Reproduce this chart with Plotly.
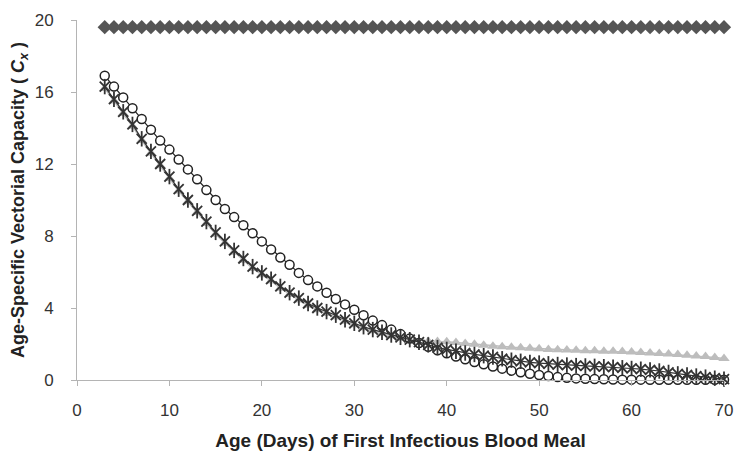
import plotly.graph_objects as go

# ── Data
age = list(range(3, 71))

diamonds = [19.6] * len(age)

circles = [16.9, 16.3, 15.7, 15.1, 14.5, 13.9, 13.3, 12.8, 12.25, 11.7,
           11.15, 10.55, 10.0, 9.5, 9.05, 8.6, 8.15, 7.7, 7.25, 6.8,
           6.4, 5.95, 5.55, 5.2, 4.85, 4.5, 4.2, 3.9, 3.6, 3.3,
           3.05, 2.8, 2.55, 2.3, 2.05, 1.85, 1.65, 1.48, 1.3, 1.15,
           1.0, 0.87, 0.75, 0.63, 0.52, 0.43, 0.35, 0.28, 0.22, 0.16,
           0.12, 0.09, 0.07, 0.05, 0.04, 0.03, 0.02, 0.02, 0.02, 0.01,
           0.01, 0.01, 0.01, 0.01, 0.01, 0.01, 0.01, 0.01]

crosses = [16.3, 15.6, 14.9, 14.2, 13.4, 12.7, 12.0, 11.3, 10.6, 10.0,
           9.4, 8.8, 8.2, 7.7, 7.2, 6.75, 6.3, 5.95, 5.6, 5.2,
           4.85, 4.55, 4.25, 4.0, 3.8, 3.6, 3.35, 3.15, 2.96, 2.8,
           2.65, 2.5, 2.37, 2.24, 2.1, 1.95, 1.8, 1.7, 1.6, 1.5,
           1.42, 1.35, 1.28, 1.18, 1.1, 1.04, 0.98, 0.94, 0.9, 0.86,
           0.83, 0.8, 0.78, 0.76, 0.74, 0.71, 0.68, 0.64, 0.6, 0.56,
           0.5, 0.42, 0.34, 0.28, 0.22, 0.16, 0.1, 0.05]

triangles = [16.2, 15.5, 14.8, 14.1, 13.3, 12.6, 11.9, 11.2, 10.5, 9.9,
             9.3, 8.7, 8.1, 7.6, 7.1, 6.65, 6.2, 5.85, 5.5, 5.1,
             4.75, 4.45, 4.15, 3.9, 3.7, 3.5, 3.27, 3.07, 2.9, 2.74,
             2.6, 2.46, 2.34, 2.22, 2.15, 2.15, 2.14, 2.12, 2.08, 2.03,
             1.98, 1.93, 1.88, 1.85, 1.82, 1.79, 1.76, 1.73, 1.7, 1.68,
             1.66, 1.65, 1.63, 1.62, 1.6, 1.6, 1.58, 1.55, 1.53, 1.5,
             1.47, 1.44, 1.41, 1.38, 1.34, 1.3, 1.25, 1.2]

x_ticks = [0, 10, 20, 30, 40, 50, 60, 70]
y_ticks = [0, 4, 8, 12, 16, 20]

FONT = 'Liberation Sans, Arial, sans-serif'
AXIS_GREY = '#b4b4b4'
STAR = '#333333'

fig = go.Figure()

fig.add_trace(go.Scatter(
    x=age, y=diamonds, mode='lines+markers', cliponaxis=False,
    line=dict(color='#555555', width=1.5),
    marker=dict(symbol='diamond', size=11, color='#555555'),
))
fig.add_trace(go.Scatter(
    x=age, y=triangles, mode='lines+markers', cliponaxis=False,
    line=dict(color='#bdbdbd', width=1.5),
    marker=dict(symbol='triangle-up', size=10, color='#bdbdbd'),
))
fig.add_trace(go.Scatter(
    x=age, y=circles, mode='lines+markers', cliponaxis=False,
    line=dict(color='#222222', width=1.2),
    marker=dict(symbol='circle', size=9, color='white',
                line=dict(color='#222222', width=1.5)),
))
# Excel-style star marker: an X plus a vertical stroke
fig.add_trace(go.Scatter(
    x=age, y=crosses, mode='lines+markers', cliponaxis=False,
    line=dict(color=STAR, width=1.2),
    marker=dict(symbol='x-thin-open', size=10, color=STAR,
                line=dict(color=STAR, width=1.8)),
))
fig.add_trace(go.Scatter(
    x=age, y=crosses, mode='markers', cliponaxis=False,
    marker=dict(symbol='line-ns-open', size=11, color=STAR,
                line=dict(color=STAR, width=1.8)),
))

fig.update_layout(
    width=750, height=474,
    template='plotly_white',
    showlegend=False,
    paper_bgcolor='white', plot_bgcolor='white',
    margin=dict(l=69, r=34, t=12, b=102),
    font=dict(family=FONT, size=17, color='#333333'),
)

fig.update_xaxes(
    range=[0, 70], tickvals=x_ticks, showgrid=False, zeroline=False,
    showline=True, linecolor=AXIS_GREY, linewidth=1,
    ticks='outside', ticklen=5, tickcolor=AXIS_GREY,
    ticklabelstandoff=10, automargin=False,
    title=dict(text='<b>Age (Days) of First Infectious Blood Meal</b>',
               font=dict(family=FONT, size=19, color='#222222'),
               standoff=14),
)
fig.update_yaxes(
    range=[0, 20], tickvals=y_ticks, showgrid=False, zeroline=False,
    showline=True, linecolor=AXIS_GREY, linewidth=1,
    ticks='outside', ticklen=5, tickcolor=AXIS_GREY,
    ticklabelstandoff=14, automargin=False,
    title=dict(text='<b>Age-Specific Vectorial Capacity ( <i>C<sub>x</sub></i> )</b>',
               font=dict(family=FONT, size=18, color='#222222'),
               standoff=6),
)

fig.write_html("out.html")
